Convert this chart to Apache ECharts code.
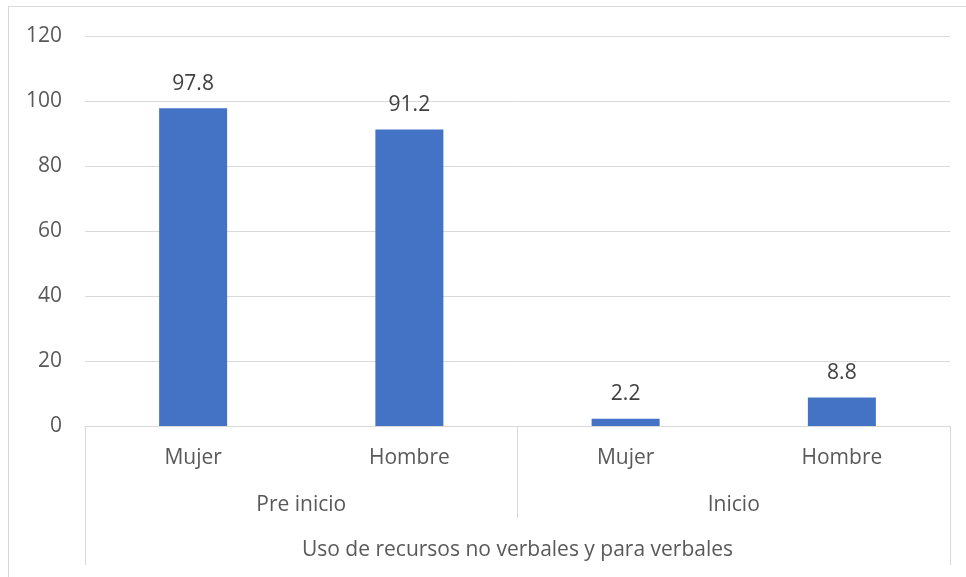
<!DOCTYPE html>
<html>
<head>
<meta charset="utf-8">
<script src="https://cdn.jsdelivr.net/npm/echarts@6/dist/echarts.min.js"></script>
<style>
html,body{margin:0;padding:0;background:#fff;}
#c{width:966px;height:577px;}
#frame{position:absolute;left:8px;top:6px;width:980px;height:600px;border:1px solid #d9d9d9;box-sizing:border-box;}
</style>
</head>
<body>
<div id="frame"></div>
<div id="c" style="position:absolute;left:0;top:0;"></div>
<script>
const subCategories = ['Mujer', 'Hombre', 'Mujer', 'Hombre'];
const groupCategories = ['Pre inicio', 'Inicio'];
const topCategories = ['Uso de recursos no verbales y para verbales'];
const values = [97.8, 91.2, 2.2, 8.8];
const yTicks = { min: 0, max: 120, interval: 20 };

const FONT = 'Open Sans';
const TXT = '#595959';
const GRID = '#d9d9d9';
const FS = 21;

const chart = echarts.init(document.getElementById('c'), null, { renderer: 'canvas' });
chart.setOption({
  animation: false,
  backgroundColor: 'transparent',
  grid: { left: 85, right: 16, top: 36, bottom: 151 },
  xAxis: [
    {
      type: 'category', data: subCategories, position: 'bottom',
      axisLine: { show: true, lineStyle: { color: GRID, width: 1 } },
      axisTick: { show: false },
      axisLabel: { color: TXT, fontFamily: FONT, fontSize: FS, margin: 22, interval: 0 }
    },
    {
      type: 'category', data: groupCategories, position: 'bottom',
      axisLine: { show: false },
      axisTick: { show: true, length: 92, interval: 0, lineStyle: { color: GRID, width: 1 } },
      axisLabel: { color: TXT, fontFamily: FONT, fontSize: FS, margin: 69, interval: 0 }
    },
    {
      type: 'category', data: topCategories, position: 'bottom',
      axisLine: { show: false },
      axisTick: { show: true, length: 139, interval: 0, lineStyle: { color: GRID, width: 1 } },
      axisLabel: { color: TXT, fontFamily: FONT, fontSize: FS, margin: 114, interval: 0 }
    }
  ],
  yAxis: {
    type: 'value', min: yTicks.min, max: yTicks.max, interval: yTicks.interval,
    axisLine: { show: false }, axisTick: { show: false },
    axisLabel: { color: TXT, fontFamily: FONT, fontSize: FS, margin: 23 },
    splitLine: { lineStyle: { color: GRID, width: 1 } }
  },
  series: [{
    type: 'bar', xAxisIndex: 0, data: values, barWidth: 68,
    itemStyle: { color: '#4472c4' },
    label: { show: true, position: 'top', distance: 14, color: '#404040', fontFamily: FONT, fontSize: FS,
      formatter: p => p.value.toFixed(1) }
  }]
});
</script>
</body>
</html>
